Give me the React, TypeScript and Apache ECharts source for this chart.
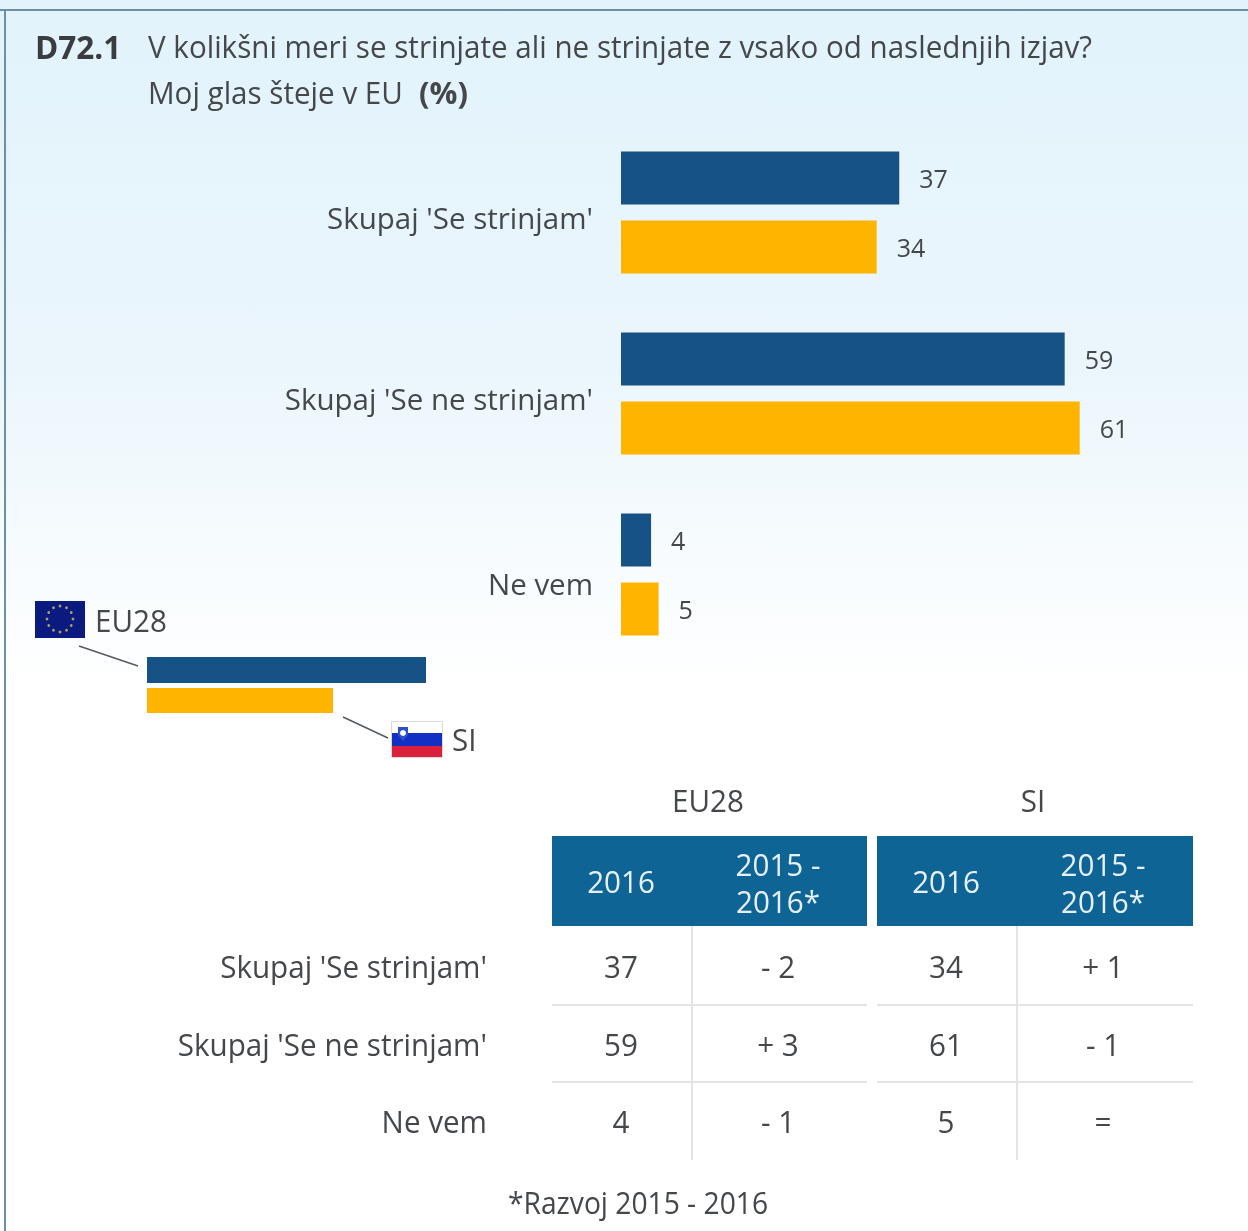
import React, { useEffect, useRef } from "react";
import * as echarts from "echarts";

const categories = ["Skupaj 'Se strinjam'", "Skupaj 'Se ne strinjam'", "Ne vem"];
const eu28Values = [37, 59, 4];
const siValues = [34, 61, 5];
const eu28Change = ["- 2", "+ 3", "- 1"];
const siChange = ["+ 1", "- 1", "="];
const titleCode = "D72.1";
const titleLine1 = "V kolikšni meri se strinjate ali ne strinjate z vsako od naslednjih izjav?";
const titleLine2 = "Moj glas šteje v EU";
const titleUnit = "(%)";
const footnote = "*Razvoj 2015 - 2016";

const FONT = "'Open Sans', sans-serif";
const INK = "#45484b";
const NAVY = "#165285";
const AMBER = "#ffb400";
const TABLE_BLUE = "#0f6496";
const RULE = "#e2e4e5";
const SX = 0.955;

function txt(text: string, x: number, y: number, o: any = {}) {
  const align = o.align || "left";
  return {
    type: "text",
    x,
    y,
    scaleX: o.sx ?? SX,
    z: 10,
    style: {
      x: 0,
      y: 0,
      text,
      fill: o.fill || INK,
      font: `${o.weight || 400} ${o.size || 31}px ${FONT}`,
      textAlign: align,
      textVerticalAlign: "middle",
    },
  };
}
const box = (x: number, y: number, w: number, h: number, fill: string, z = 5) => ({
  type: "rect",
  z,
  shape: { x, y, width: w, height: h },
  style: { fill },
});
const seg = (x1: number, y1: number, x2: number, y2: number, stroke: string, lineWidth = 2) => ({
  type: "line",
  z: 5,
  shape: { x1, y1, x2, y2 },
  style: { stroke, lineWidth },
});

function buildGraphics() {
  const g: any[] = [];
  // frame
  g.push(seg(0, 10, 1248, 10, "#6b90a8", 2), seg(5, 10, 5, 1231, "#6b90a8", 2));
  // title
  g.push(txt(titleCode, 35, 46, { weight: 700, size: 32, fill: "#3a3d40", sx: 0.985 }));
  g.push(txt(titleLine1, 148, 46));
  g.push(txt(titleLine2, 148, 92));
  g.push(txt(titleUnit, 419, 92, { weight: 700, sx: 1 }));

  // legend key
  g.push(box(35, 601, 50, 37, "#0b1a7e"));
  for (let i = 0; i < 12; i++) {
    const a = (i * Math.PI) / 6;
    g.push({
      type: "circle",
      z: 6,
      shape: { cx: 60 + 13 * Math.cos(a), cy: 619 + 13 * Math.sin(a), r: 1.4 },
      style: { fill: "#a89f6a" },
    });
  }
  g.push(txt("EU28", 95, 620));
  g.push(seg(79, 646, 138, 666, "#555a5e", 1.5));
  g.push(box(147, 657, 279, 26, NAVY), box(147, 688, 186, 25, AMBER));
  g.push(seg(343, 717, 388, 738, "#555a5e", 1.5));
  g.push({
    type: "rect",
    z: 4,
    shape: { x: 391.5, y: 721.5, width: 51, height: 36 },
    style: { fill: "#ffffff", stroke: "#d8dadb", lineWidth: 1 },
  });
  g.push(box(392, 733, 50, 13, "#1330c4"), box(392, 746, 50, 11, "#dc1f3a"));
  g.push({
    type: "polygon",
    z: 6,
    shape: { points: [[398, 727], [408, 727], [408, 735], [403, 741], [398, 735]] },
    style: { fill: "#2c52c8" },
  });
  g.push({ type: "circle", z: 7, shape: { cx: 403, cy: 733, r: 3 }, style: { fill: "#ffffff" } });
  g.push(txt("SI", 452, 739));

  // table
  const cols = [621, 778, 946, 1103];
  const rows = [966, 1044, 1121];
  g.push(txt("EU28", 708, 800, { align: "center" }), txt("SI", 1033, 800, { align: "center" }));
  g.push(box(552, 836, 315, 90, TABLE_BLUE), box(877, 836, 316, 90, TABLE_BLUE));
  [0, 2].forEach((c) => {
    g.push(txt("2016", cols[c], 881, { align: "center", fill: "#e6f0f6" }));
    g.push(txt("2015 -", cols[c + 1], 864, { align: "center", fill: "#e6f0f6" }));
    g.push(txt("2016*", cols[c + 1], 901, { align: "center", fill: "#e6f0f6" }));
  });
  [692, 1017].forEach((x) => g.push(seg(x, 926, x, 1160, RULE, 2)));
  [1005, 1082].forEach((y) => {
    g.push(seg(552, y, 867, y, RULE, 2), seg(877, y, 1193, y, RULE, 2));
  });
  categories.forEach((c, i) => {
    const y = rows[i];
    g.push(txt(c, 487, y, { align: "right" }));
    g.push(txt(String(eu28Values[i]), cols[0], y, { align: "center" }));
    g.push(txt(eu28Change[i], cols[1], y, { align: "center" }));
    g.push(txt(String(siValues[i]), cols[2], y, { align: "center" }));
    g.push(txt(siChange[i], cols[3], y, { align: "center" }));
  });
  g.push(txt(footnote, 638, 1202, { align: "center", sx: 0.91 }));
  return g;
}

export default function App() {
  const ref = useRef<HTMLDivElement>(null);
  useEffect(() => {
    document.body.style.margin = "0";
    const chart = echarts.init(ref.current!, undefined, { renderer: "svg" });
    const barLabel = {
      show: true,
      position: "right" as const,
      distance: 20,
      color: INK,
      fontFamily: FONT,
      fontSize: 25,
    };
    chart.setOption({
      animation: false,
      backgroundColor: {
        type: "linear",
        x: 0,
        y: 0,
        x2: 0,
        y2: 1,
        colorStops: [
          { offset: 0, color: "#e2f3fb" },
          { offset: 0.3, color: "#ebf6fc" },
          { offset: 0.56, color: "#ffffff" },
          { offset: 1, color: "#ffffff" },
        ],
      },
      grid: { left: 621, top: 122, width: 601.6, height: 543 },
      xAxis: { type: "value", min: 0, max: 80, show: false },
      yAxis: {
        type: "category",
        inverse: true,
        data: categories,
        axisLine: { show: false },
        axisTick: { show: false },
        axisLabel: {
          margin: 28,
          color: INK,
          fontFamily: FONT,
          fontSize: 29.5,
          formatter: (v: string, i: number) => `{${i === 2 ? "c" : "a"}|${v}}`,
          rich: {
            a: { padding: [10, 0, 0, 0], fontFamily: FONT, fontSize: 29.5, color: INK },
            c: { padding: [18, 0, 0, 0], fontFamily: FONT, fontSize: 29.5, color: INK },
          },
        },
      },
      series: [
        { type: "bar", name: "EU28", data: eu28Values, barWidth: 53, barGap: "30%", itemStyle: { color: NAVY }, label: barLabel },
        { type: "bar", name: "SI", data: siValues, barWidth: 53, itemStyle: { color: AMBER }, label: barLabel },
      ],
      graphic: { elements: buildGraphics() },
    });
    return () => chart.dispose();
  }, []);
  return <div ref={ref} style={{ width: 1248, height: 1231, filter: "blur(0.6px)" }} />;
}
